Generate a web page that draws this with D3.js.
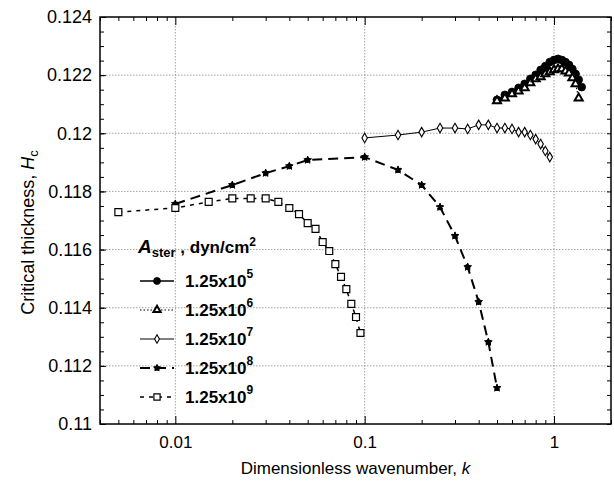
<!DOCTYPE html>
<html>
<head>
<meta charset="utf-8">
<script src="https://cdn.jsdelivr.net/npm/d3@7"></script>
<style>
  body { margin: 0; background: #fff; }
  svg { font-family: Arial, "Liberation Sans", sans-serif; }
</style>
</head>
<body>
<svg></svg>
<script>
/**
 * Data.
 */
const k5 = [0.5, 0.55, 0.6, 0.65, 0.7, 0.75, 0.8, 0.85, 0.9, 0.95, 1.0, 1.05, 1.1, 1.15, 1.2, 1.25, 1.3, 1.35, 1.4];
const h5 = [0.12115, 0.12132, 0.12142, 0.12156, 0.12170, 0.12187, 0.12201, 0.12218, 0.12231, 0.12245,
    0.12252, 0.12256, 0.12252, 0.12245, 0.12235, 0.12221, 0.12204, 0.12184, 0.12159];

const k6 = [0.5, 0.55, 0.6, 0.65, 0.7, 0.75, 0.8, 0.85, 0.9, 0.95, 1.0, 1.05, 1.1, 1.15, 1.2, 1.25, 1.3, 1.35];
const h6 = [0.12111, 0.12121, 0.12135, 0.12145, 0.12156, 0.12173, 0.12187, 0.12194, 0.12204, 0.12211,
    0.12218, 0.12221, 0.12221, 0.12214, 0.12207, 0.12190, 0.12170, 0.12121];

const k7 = [0.1, 0.15, 0.2, 0.25, 0.3, 0.35, 0.4, 0.45, 0.5, 0.55, 0.6, 0.65, 0.7, 0.75, 0.8, 0.85, 0.9, 0.95];
const h7 = [0.11984, 0.11994, 0.12004, 0.12018, 0.12018, 0.12015, 0.12029, 0.12029, 0.12018, 0.12018,
    0.12015, 0.12004, 0.12004, 0.11994, 0.11980, 0.11963, 0.11939, 0.11918];

const k8 = [0.01, 0.02, 0.03, 0.04, 0.05, 0.1, 0.15, 0.2, 0.25, 0.3, 0.35, 0.4, 0.45, 0.5];
const h8 = [0.11757, 0.11822, 0.11863, 0.11887, 0.11908, 0.11918, 0.11874, 0.11822, 0.11746, 0.11647,
    0.11540, 0.11420, 0.11282, 0.11124];

const k9 = [0.005, 0.01, 0.015, 0.02, 0.025, 0.03, 0.035, 0.04, 0.045, 0.05, 0.055, 0.06, 0.065, 0.07,
    0.075, 0.08, 0.085, 0.09, 0.095];
const h9 = [0.11729, 0.11743, 0.11764, 0.11776, 0.11776, 0.11776, 0.11764, 0.11743, 0.11722, 0.11691,
    0.11671, 0.11626, 0.11595, 0.11550, 0.11506, 0.11464, 0.11413, 0.11368, 0.11313];

const exponents = [5, 6, 7, 8, 9];

const xMajor = [0.01, 0.1, 1];
const xMinor = [0.004, 0.005, 0.006, 0.007, 0.008, 0.009, 0.02, 0.03, 0.04, 0.05, 0.06, 0.07, 0.08, 0.09,
    0.2, 0.3, 0.4, 0.5, 0.6, 0.7, 0.8, 0.9, 2];
const yMajor = [0.11, 0.112, 0.114, 0.116, 0.118, 0.12, 0.122, 0.124];
const yMinor = d3.range(0, 29).map(i => 0.11 + i * 0.0005);

/**
 * Set stuff up.
 */
const width = 614;
const height = 481;
const margin = { top: 17, right: 3, bottom: 57, left: 100 };
const innerW = width - margin.left - margin.right;
const innerH = height - margin.top - margin.bottom;

const svg = d3.select('svg')
    .attr('width', width)
    .attr('height', height)
    .attr('viewBox', `0 0 ${width} ${height}`);

const g = svg.append('g')
    .attr('transform', `translate(${margin.left},${margin.top})`);

const x = d3.scaleLog().domain([0.004, 2]).range([0, innerW]);
const y = d3.scaleLinear().domain([0.11, 0.124]).range([innerH, 0]);

/**
 * Grid.
 */
const grid = g.append('g').attr('class', 'grid')
    .attr('stroke', '#8a8a8a')
    .attr('stroke-width', 0.8)
    .attr('stroke-dasharray', '1.5,1.5');

grid.selectAll('line.gx')
    .data(xMajor)
    .enter()
    .append('line')
    .attr('x1', d => x(d)).attr('x2', d => x(d))
    .attr('y1', 0).attr('y2', innerH);

grid.selectAll('line.gy')
    .data(yMajor.slice(1, -1))
    .enter()
    .append('line')
    .attr('class', 'gy')
    .attr('x1', 0).attr('x2', innerW)
    .attr('y1', d => y(d)).attr('y2', d => y(d));

/**
 * Axes, ticks pointing inward.
 */
function styleAxis(sel) {
    sel.select('.domain').remove();
    sel.selectAll('line').attr('stroke', '#000').attr('stroke-width', 1);
    sel.selectAll('text').attr('fill', '#000').attr('font-size', 17);
}

g.append('g')
    .attr('transform', `translate(0,${innerH})`)
    .call(d3.axisBottom(x).tickValues(xMajor).tickSize(-8).tickPadding(12).tickFormat(d => String(d)))
    .call(styleAxis);
g.append('g')
    .attr('transform', `translate(0,${innerH})`)
    .call(d3.axisBottom(x).tickValues(xMinor).tickSize(-4).tickFormat(''))
    .call(styleAxis);
g.append('g')
    .call(d3.axisTop(x).tickValues(xMajor).tickSize(-8).tickFormat(''))
    .call(styleAxis);
g.append('g')
    .call(d3.axisTop(x).tickValues(xMinor).tickSize(-4).tickFormat(''))
    .call(styleAxis);

g.append('g')
    .call(d3.axisLeft(y).tickValues(yMajor).tickSize(-6).tickPadding(8).tickFormat(d => String(+d.toFixed(3))))
    .call(styleAxis)
    .selectAll('text').attr('font-size', 18);
g.append('g')
    .call(d3.axisLeft(y).tickValues(yMinor).tickSize(-4).tickFormat(''))
    .call(styleAxis);
g.append('g')
    .attr('transform', `translate(${innerW},0)`)
    .call(d3.axisRight(y).tickValues(yMinor).tickSize(-4).tickFormat(''))
    .call(styleAxis);

g.append('rect')
    .attr('width', innerW)
    .attr('height', innerH)
    .attr('fill', 'none')
    .attr('stroke', '#000')
    .attr('stroke-width', 1.5);

/**
 * Series.
 */
const series = [
    { k: k5, h: h5, dash: null, width: 1.5, sym: d3.symbolCircle, size: 48, fill: '#000', sw: 0.8 },
    { k: k6, h: h6, dash: '1.5,2', width: 1.2, sym: d3.symbolTriangle, size: 28, fill: '#fff', sw: 2 },
    { k: k7, h: h7, dash: null, width: 1, sym: d3.symbolDiamond, size: 26, fill: '#fff', sw: 1.1 },
    { k: k8, h: h8, dash: '10,6', width: 2, sym: d3.symbolStar, size: 18, fill: '#000', sw: 1 },
    { k: k9, h: h9, dash: '4,5', width: 1.5, sym: d3.symbolSquare, size: 48, fill: '#fff', sw: 1.2 }
];

const line = d3.line()
    .x(d => x(d[0]))
    .y(d => y(d[1]));

series.forEach(function (s) {
    const pts = s.k.map((k, i) => [k, s.h[i]]);
    g.append('path')
        .datum(pts)
        .attr('d', line)
        .attr('fill', 'none')
        .attr('stroke', '#000')
        .attr('stroke-width', s.width)
        .attr('stroke-dasharray', s.dash);

    g.append('g')
        .selectAll('path')
        .data(pts)
        .enter()
        .append('path')
        .attr('transform', d => `translate(${x(d[0])},${y(d[1])})`)
        .attr('d', d3.symbol().type(s.sym).size(s.size))
        .attr('fill', s.fill)
        .attr('stroke', '#000')
        .attr('stroke-width', s.sw);

    // asterisk markers get an extra spoke pass
    if (s.sym === d3.symbolStar) {
        g.append('g')
            .selectAll('path')
            .data(pts)
            .enter()
            .append('path')
            .attr('transform', d => `translate(${x(d[0])},${y(d[1])})`)
            .attr('d', d3.symbol().type(d3.symbolAsterisk).size(26))
            .attr('stroke', '#000')
            .attr('stroke-width', 1.8);
    }
});

/**
 * Legend.
 */
const legend = svg.append('g')
    .attr('font-weight', 'bold')
    .attr('font-size', 17);

const lt = legend.append('text')
    .attr('x', 138)
    .attr('y', 253);
lt.append('tspan').attr('font-style', 'italic').attr('font-size', 19).text('A');
lt.append('tspan').attr('font-size', 13).attr('dy', 4).text('ster');
lt.append('tspan').attr('dy', -4).text(' , dyn/cm');
lt.append('tspan').attr('font-size', 12).attr('dy', -7).text('2');

const rows = legend.selectAll('g.row')
    .data(series)
    .enter()
    .append('g')
    .attr('class', 'row')
    .attr('transform', (d, i) => `translate(0,${281 + i * 29})`);

rows.append('line')
    .attr('x1', 140).attr('x2', 174)
    .attr('stroke', '#000')
    .attr('stroke-width', d => d.width)
    .attr('stroke-dasharray', d => d.dash);

rows.append('path')
    .attr('transform', 'translate(157,0)')
    .attr('d', d => d3.symbol().type(d.sym).size(d.size * 0.8)())
    .attr('fill', d => d.fill)
    .attr('stroke', '#000')
    .attr('stroke-width', d => d.sw);

rows.filter(d => d.sym === d3.symbolStar)
    .append('path')
    .attr('transform', 'translate(157,0)')
    .attr('d', d3.symbol().type(d3.symbolAsterisk).size(22))
    .attr('stroke', '#000')
    .attr('stroke-width', 1.8);

const rt = rows.append('text')
    .attr('x', 185)
    .attr('y', 6);
rt.append('tspan').text('1.25x10');
rt.append('tspan').attr('font-size', 12).attr('dy', -9).text((d, i) => exponents[i]);

/**
 * Axis titles.
 */
const xt = svg.append('text')
    .attr('x', margin.left + innerW / 2)
    .attr('y', 474)
    .attr('text-anchor', 'middle')
    .attr('font-size', 17);
xt.append('tspan').text('Dimensionless wavenumber, ');
xt.append('tspan').attr('font-style', 'italic').text('k');

const yt = svg.append('text')
    .attr('transform', `translate(34,${margin.top + innerH / 2 + 12}) rotate(-90)`)
    .attr('text-anchor', 'middle')
    .attr('font-size', 18);
yt.append('tspan').text('Critical thickness, ');
yt.append('tspan').attr('font-style', 'italic').text('H');
yt.append('tspan').attr('font-size', 13).attr('dy', 4).text('c');
</script>
</body>
</html>
